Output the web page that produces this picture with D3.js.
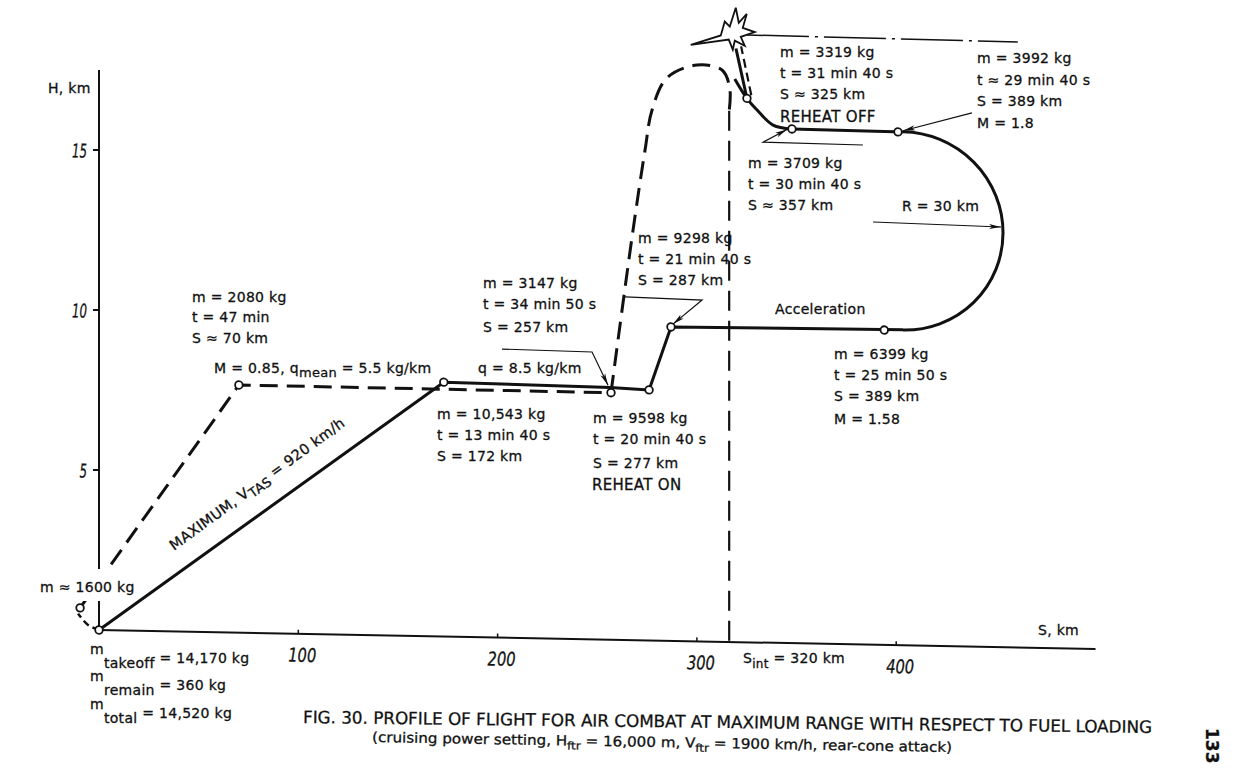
<!DOCTYPE html>
<html>
<head>
<meta charset="utf-8">
<script src="https://cdn.jsdelivr.net/npm/d3@7"></script>
<style>
  body { margin: 0; background: #fff; }
  text { font-family: 'DejaVu Sans', sans-serif; fill: #111; stroke: #111; stroke-width: 0.3px; }
</style>
</head>
<body>
<script>
// flight profile, S (km) vs H (km)
const X_TICKS = [100, 200, 300, 400];
const Y_TICKS = [5, 10, 15];

// solid profile: max-speed climb, cruise, reheat climb, acceleration
const solidProfile = [[0, 0], [173, 7.95], [256.5, 7.88], [276, 7.83], [287, 9.81], [403.4, 9.86]];
// turn R = 30 km (centre, half-widths)
const turnArc = { s: 403.4, h: 12.95, rs: 50.2, rh: 3.1 };
const topLeg = [[403.4, 16.04], [347.7, 16.07]];
const descentCurve = [[347.7, 16.07], [338.2, 16.18], [330.2, 16.64], [325.1, 17.0], [319, 17.6]];
const solidMarks = [[0, 0], [173, 7.95], [276, 7.83], [287, 9.81], [394, 9.84], [400.9, 16.04], [347.7, 16.07], [325.1, 17.0]];

// dashed profile: M = 0.85 cruise then zoom climb
const takeoffCurl = [[0, 0], [-5.5, 0.15], [-10.5, 0.5]];
const dashedCruise = [[-9.5, 0.68], [70.2, 7.74], [256.9, 7.72]];
const dashedLoop = [[256.9, 7.72], [267.4, 12.57], [274, 15.33], [277.5, 16.58], [285, 17.59], [300, 18.01], [312.6, 17.87], [316.5, 17.3], [316.2, 16.6]];
const interceptLine = [[316.2, 16.6], [316.2, -0.15]];
const dashedMarks = [[70.2, 7.74], [256.9, 7.72]];
const curlMark = [-9.5, 0.68];

const attackArrow = [[325.1, 17.0], [319.6, 18.55]];
const attackDash = [[327.3, 17.1], [322.2, 18.62]];
const target = [318, 18.95];
const targetLine = [[325.1, 18.98], [461, 18.92]];

const leaderLines = [
  [[202.2, 9.02], [247.4, 8.98], [255.4, 7.95]],
  [[263.9, 10.72], [302.6, 10.67], [288, 9.9]],
  [[383.3, 15.61], [333.2, 15.64], [345.2, 16.05]],
  [[438, 16.68], [403.5, 16.08]],
  [[388.4, 13.21], [452.6, 13.13]]
];

const W = 1248, H = 783;
const SKEW = 1.09; // scan is slightly skewed

const svg = d3.select('body').append('svg')
  .attr('width', W).attr('height', H);

const defs = svg.append('defs');
defs.append('marker').attr('id', 'arr')
  .attr('viewBox', '0 0 12 6').attr('refX', 12).attr('refY', 3)
  .attr('markerWidth', 12).attr('markerHeight', 6)
  .attr('markerUnits', 'userSpaceOnUse').attr('orient', 'auto')
  .append('path').attr('d', 'M0,0.5 L12,3 L0,5.5 L3,3 z').attr('fill', '#111');

const x = d3.scaleLinear().domain([0, 500]).range([99, 1095.5]);
const y = d3.scaleLinear().domain([0, 15]).range([630, 150]);

const g = svg.append('g')
  .attr('transform', `translate(99,0) skewY(${SKEW}) translate(-99,0)`);

const line = d3.line().x(d => x(d[0])).y(d => y(d[1]));
const smooth = d3.line().x(d => x(d[0])).y(d => y(d[1])).curve(d3.curveCatmullRom.alpha(0.5));

// axes
g.append('line').attr('x1', x(0)).attr('x2', x(0)).attr('y1', y(0)).attr('y2', y(17.5))
  .attr('stroke', '#111').attr('stroke-width', 2);
g.append('line').attr('x1', x(0)).attr('x2', x(500)).attr('y1', y(0)).attr('y2', y(0))
  .attr('stroke', '#111').attr('stroke-width', 2);
g.selectAll('.yt').data(Y_TICKS).enter().append('line')
  .attr('x1', x(0) - 6).attr('x2', x(0)).attr('y1', d => y(d)).attr('y2', d => y(d))
  .attr('stroke', '#111').attr('stroke-width', 2);
g.selectAll('.xt').data(X_TICKS).enter().append('line')
  .attr('x1', d => x(d)).attr('x2', d => x(d)).attr('y1', y(0)).attr('y2', y(0) - 4)
  .attr('stroke', '#111').attr('stroke-width', 1.5);
g.selectAll('.ytl').data(Y_TICKS).enter().append('text')
  .attr('x', x(0) - 12).attr('y', d => y(d) + 8)
  .attr('text-anchor', 'end').attr('font-style', 'italic').attr('font-size', 19)
  .attr('textLength', d => String(d).length * 7.5).attr('lengthAdjust', 'spacingAndGlyphs')
  .text(d => d);
g.selectAll('.xtl').data(X_TICKS).enter().append('text')
  .attr('x', d => x(d) - 10).attr('y', y(0) + 28)
  .attr('font-style', 'italic').attr('font-size', 19)
  .attr('textLength', 28).attr('lengthAdjust', 'spacingAndGlyphs')
  .text(d => d);

// dashed profile
g.append('path').attr('d', smooth(takeoffCurl)).attr('fill', 'none')
  .attr('stroke', '#111').attr('stroke-width', 2.5).attr('stroke-dasharray', '7,4');
g.append('path').attr('d', line(dashedCruise)).attr('fill', 'none')
  .attr('stroke', '#111').attr('stroke-width', 3).attr('stroke-dasharray', '18,9');
g.append('path').attr('d', smooth(dashedLoop)).attr('fill', 'none')
  .attr('stroke', '#111').attr('stroke-width', 3).attr('stroke-dasharray', '18,9');
g.append('path').attr('d', line(interceptLine)).attr('fill', 'none')
  .attr('stroke', '#111').attr('stroke-width', 2.2).attr('stroke-dasharray', '20,10');

// solid profile
g.append('path').attr('d', line(solidProfile)).attr('fill', 'none')
  .attr('stroke', '#111').attr('stroke-width', 3).attr('stroke-linejoin', 'round');
const rx = x(turnArc.s + turnArc.rs) - x(turnArc.s);
const ry = y(turnArc.h) - y(turnArc.h + turnArc.rh);
g.append('path')
  .attr('d', `M${x(turnArc.s)},${y(turnArc.h - turnArc.rh)} A${rx},${ry} 0 0 0 ${x(turnArc.s)},${y(turnArc.h + turnArc.rh)}`)
  .attr('fill', 'none').attr('stroke', '#111').attr('stroke-width', 3);
g.append('path').attr('d', line(topLeg)).attr('fill', 'none')
  .attr('stroke', '#111').attr('stroke-width', 3);
g.append('path').attr('d', smooth(descentCurve)).attr('fill', 'none')
  .attr('stroke', '#111').attr('stroke-width', 3);

// attack on the target
g.append('path').attr('d', line(attackArrow)).attr('fill', 'none')
  .attr('stroke', '#111').attr('stroke-width', 3);
g.append('path').attr('d', line(attackDash)).attr('fill', 'none')
  .attr('stroke', '#111').attr('stroke-width', 2.2).attr('stroke-dasharray', '9,5');
g.append('path').attr('d', line(targetLine)).attr('fill', 'none')
  .attr('stroke', '#111').attr('stroke-width', 1.5).attr('stroke-dasharray', '62,6,3,6');
const burst = [[-42, 10], [-12, 0], [-8, -14], [-3, -9], [3, -28], [6, -13], [14, -22], [10, -8], [22, -4], [8, 1], [12, 10], [2, 5], [0, 14], [-4, 4]];
g.append('path')
  .attr('d', 'M' + burst.map(p => [x(target[0]) + p[0], y(target[1]) + p[1]].join(',')).join('L') + 'Z')
  .attr('fill', '#fff').attr('stroke', '#111').attr('stroke-width', 1.8).attr('stroke-linejoin', 'miter');

// leader lines
g.selectAll('.leader').data(leaderLines).enter().append('path')
  .attr('d', d => line(d)).attr('fill', 'none')
  .attr('stroke', '#111').attr('stroke-width', 1.2).attr('marker-end', 'url(#arr)');

// point markers
g.selectAll('.sm').data(solidMarks.concat(dashedMarks, [curlMark])).enter().append('circle')
  .attr('cx', d => x(d[0])).attr('cy', d => y(d[1])).attr('r', 3.8)
  .attr('fill', '#fff').attr('stroke', '#111').attr('stroke-width', 1.8);

// text (placed on the page as in the scan)
const t = svg.append('g');
function block(x0, baselines, lines, size) {
  lines.forEach((s, i) => {
    t.append('text').attr('x', x0).attr('y', baselines[i])
      .attr('font-size', size || 14).attr('letter-spacing', 0.3).text(s);
  });
}
function sub(x0, y0, parts, size) {
  const el = t.append('text').attr('x', x0).attr('y', y0).attr('font-size', size || 14).attr('letter-spacing', 0.3);
  let shift = 0;
  parts.forEach(p => {
    const want = p.s || 0;
    const sp = el.append('tspan').attr('dy', want - shift).text(p.t);
    if (p.fs) sp.attr('font-size', p.fs);
    shift = want;
  });
  return el;
}

t.append('rect').attr('x', 35).attr('y', 569).attr('width', 95).attr('height', 32).attr('fill', '#fff');
t.append('text').attr('x', 40).attr('y', 592).attr('font-size', 14).attr('letter-spacing', 0.3).text('m ≈ 1600 kg');

block(48, [93], ['H, km']);
block(192, [302, 322, 343], ['m = 2080 kg', 't = 47 min', 'S ≈ 70 km']);
sub(214, 373, [{ t: 'M = 0.85, q' }, { t: 'mean', s: 4, fs: 13 }, { t: ' = 5.5 kg/km' }]);
block(478, [373], ['q = 8.5 kg/km']);
block(483, [288, 309, 332], ['m = 3147 kg', 't = 34 min 50 s', 'S = 257 km']);
block(437, [419, 440, 461], ['m = 10,543 kg', 't = 13 min 40 s', 'S = 172 km']);
block(593, [423, 444, 468], ['m = 9598 kg', ' t = 20 min 40 s', 'S = 277 km']);
block(592, [490], ['REHEAT ON'], 15);
block(638, [243, 264, 285], ['m = 9298 kg', 't = 21 min 40 s', 'S = 287 km']);
block(775, [314], ['Acceleration']);
block(834, [359, 380, 401, 424], ['m = 6399 kg', 't = 25 min 50 s', 'S = 389 km', 'M = 1.58']);
block(902, [211], ['R = 30 km']);
block(748, [168, 189, 210], ['m = 3709 kg', 't = 30 min 40 s', 'S ≈ 357 km']);
block(780, [57, 78, 99], ['m = 3319 kg', 't = 31 min 40 s', 'S ≈ 325 km']);
block(780, [122], ['REHEAT OFF'], 15);
block(977, [63, 85, 106, 128], ['m = 3992 kg', 't ≈ 29 min 40 s', 'S = 389 km', 'M = 1.8']);
block(1038, [635], ['S, km']);

sub(90, 663, [{ t: 'm', s: -9 }, { t: 'takeoff', s: 5, fs: 14 }, { t: ' = 14,170 kg', s: 0 }]);
sub(90, 690, [{ t: 'm', s: -9 }, { t: 'remain', s: 5, fs: 14 }, { t: ' = 360 kg', s: 0 }]);
sub(90, 718, [{ t: 'm', s: -9 }, { t: 'total', s: 5, fs: 14 }, { t: ' = 14,520 kg', s: 0 }]);
sub(743, 663, [{ t: 'S' }, { t: 'int', s: 5, fs: 12 }, { t: ' = 320 km', s: 0 }]);

sub(0, 0, [{ t: 'MAXIMUM, V' }, { t: 'TAS', s: 4, fs: 13 }, { t: ' = 920 km/h', s: 0 }], 14.5)
  .attr('text-anchor', 'middle')
  .attr('transform', 'translate(260,488) rotate(-36.2)');

t.append('text').attr('x', 303).attr('y', 723).attr('font-size', 17)
  .attr('textLength', 849).attr('lengthAdjust', 'spacingAndGlyphs')
  .attr('transform', 'rotate(0.67 303 723)')
  .text('FIG. 30. PROFILE OF FLIGHT FOR AIR COMBAT AT MAXIMUM RANGE WITH RESPECT TO FUEL LOADING');
const cap2 = t.append('text').attr('x', 372).attr('y', 742).attr('font-size', 14)
  .attr('textLength', 580).attr('lengthAdjust', 'spacingAndGlyphs')
  .attr('transform', 'rotate(1.0 372 742)');
cap2.append('tspan').text('(cruising power setting, H');
cap2.append('tspan').attr('dy', 4).attr('font-size', 11).text('ftr');
cap2.append('tspan').attr('dy', -4).text(' = 16,000 m, V');
cap2.append('tspan').attr('dy', 4).attr('font-size', 11).text('ftr');
cap2.append('tspan').attr('dy', -4).text(' = 1900 km/h, rear-cone attack)');

t.append('text').attr('transform', 'translate(1206,728) rotate(90)')
  .attr('font-size', 17).attr('font-weight', 'bold').text('133');
</script>
</body>
</html>
